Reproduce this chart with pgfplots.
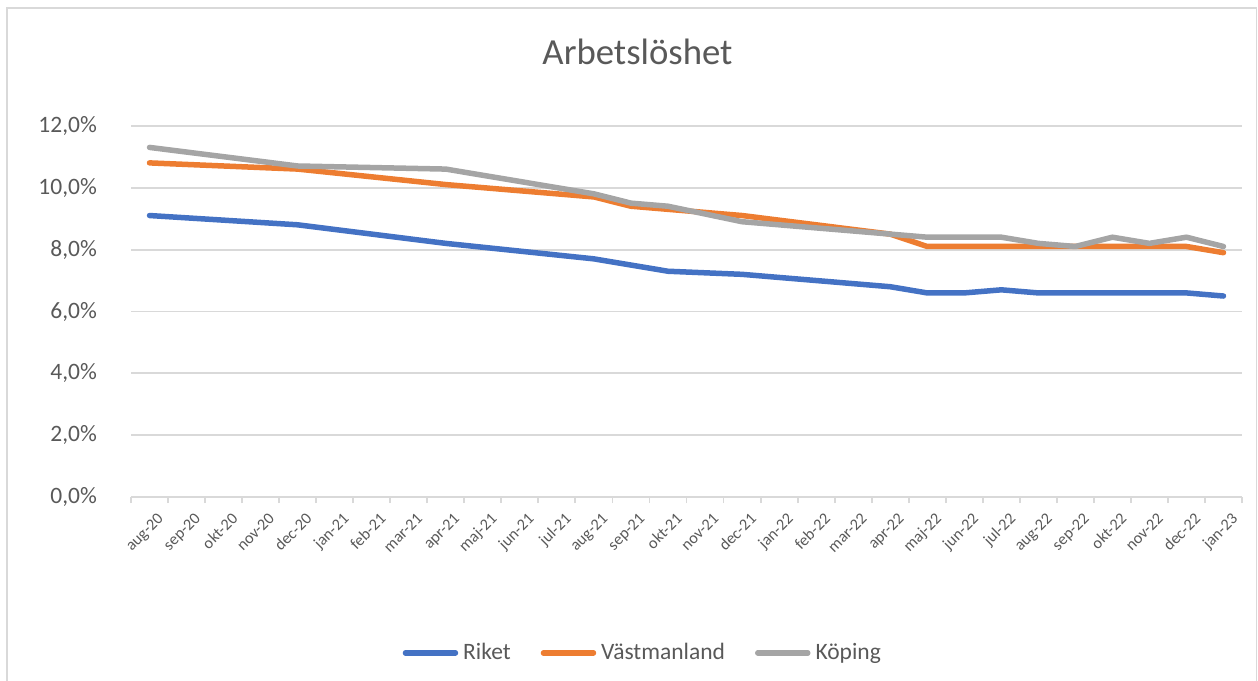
\documentclass[border=0pt]{standalone}
\usepackage{pgfplots}
\pgfplotsset{compat=1.18}
\usepackage{fontspec}
\setmainfont{Carlito}
\definecolor{cBlue}{HTML}{4472C4}
\definecolor{cOrange}{HTML}{ED7D31}
\definecolor{cGray}{HTML}{A5A5A5}
\definecolor{cGrid}{HTML}{D9D9D9}
\definecolor{cText}{HTML}{595959}
\begin{document}
\begin{tikzpicture}
\useasboundingbox (0,0) rectangle (503.2pt,272.4pt);
\draw[cGrid, line width=0.6pt] (2.8pt,-1pt) -- (2.8pt,269.2pt) -- (502.6pt,269.2pt) -- (502.6pt,-1pt);
\node[text=cText, font=\fontsize{14.7}{17}\selectfont] at (255pt,251.5pt) {Arbetslöshet};
\begin{axis}[
  at={(52.4pt,73.5pt)}, anchor=south west,
  scale only axis, width=444.4pt, height=148.6pt,
  xmin=-0.5, xmax=29.5, ymin=0, ymax=12,
  axis x line*=bottom, axis y line*=left,
  y axis line style={draw=none},
  x axis line style={cGrid, line width=0.75pt},
  xtick={0,...,29},
  xticklabels={aug-20,sep-20,okt-20,nov-20,dec-20,jan-21,feb-21,mar-21,apr-21,maj-21,jun-21,jul-21,aug-21,sep-21,okt-21,nov-21,dec-21,jan-22,feb-22,mar-22,apr-22,maj-22,jun-22,jul-22,aug-22,sep-22,okt-22,nov-22,dec-22,jan-23},
  major x tick style={draw=none},
  minor xtick={-0.5,0.5,...,29.5},
  minor x tick style={cGrid, line width=0.75pt},
  tick align=outside,
  minor tick length=2.4pt,
  xticklabel style={rotate=45, anchor=north east, inner sep=0pt, yshift=-3.0pt, xshift=1pt, text=cText, font=\fontsize{6.5}{7}\selectfont},
  ytick={0,2,4,6,8,10,12},
  yticklabels={{0,0\%},{2,0\%},{4,0\%},{6,0\%},{8,0\%},{10,0\%},{12,0\%}},
  ytick style={draw=none},
  yticklabel style={anchor=east, inner sep=0pt, xshift=-9.2pt, text=cText, font=\fontsize{9.4}{11}\selectfont},
  ymajorgrids, grid style={cGrid, line width=0.75pt},
  legend columns=3,
  legend style={at={(0.462,-0.419)}, anchor=center, draw=none, fill=none,
    font=\fontsize{9.4}{11}\selectfont, text=cText,
    /tikz/every even column/.append style={column sep=10pt}},
  legend image code/.code={\draw[#1, line cap=round] (0pt,0pt) -- (20pt,0pt);},
  every axis plot/.append style={line width=2.2pt, line cap=round, line join=round, mark=none},
]
\addplot[cBlue] coordinates {(0,9.1)(4,8.8)(8,8.2)(12,7.7)(14,7.3)(16,7.2)(20,6.8)(21,6.6)(22,6.6)(23,6.7)(24,6.6)(25,6.6)(26,6.6)(27,6.6)(28,6.6)(29,6.5)};
\addlegendentry{Riket}
\addplot[cOrange] coordinates {(0,10.8)(4,10.6)(8,10.1)(12,9.7)(13,9.4)(14,9.3)(16,9.1)(20,8.5)(21,8.1)(22,8.1)(23,8.1)(24,8.1)(25,8.1)(26,8.1)(27,8.1)(28,8.1)(29,7.9)};
\addlegendentry{Västmanland}
\addplot[cGray] coordinates {(0,11.3)(4,10.7)(8,10.6)(12,9.8)(13,9.5)(14,9.4)(16,8.9)(20,8.5)(21,8.4)(22,8.4)(23,8.4)(24,8.2)(25,8.1)(26,8.4)(27,8.2)(28,8.4)(29,8.1)};
\addlegendentry{Köping}
\end{axis}
\end{tikzpicture}
\end{document}
